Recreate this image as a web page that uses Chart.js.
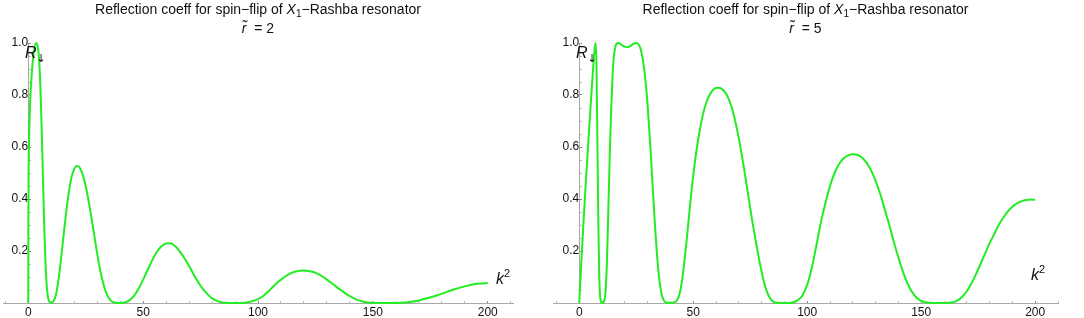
<!DOCTYPE html>
<html><head><meta charset="utf-8">
<script src="https://cdn.jsdelivr.net/npm/chart.js@4/dist/chart.umd.min.js"></script>
<style>
body{margin:0;background:#fff;width:1084px;height:318px;overflow:hidden;position:relative;font-family:"Liberation Sans",Arial,sans-serif;}
canvas{position:absolute;top:0;}
.title{position:absolute;text-align:center;font-size:14px;color:#111;height:18px;line-height:18px;white-space:nowrap;overflow:visible}
.title sub{font-size:10px;line-height:0;vertical-align:-3px}
.lab{position:absolute;font-size:16px;font-style:italic;color:#111;line-height:1;white-space:nowrap}
.lab sub{font-family:"DejaVu Sans",sans-serif;font-style:normal;font-size:11px;vertical-align:-4px;line-height:0}
.lab sup{font-style:normal;font-size:11px;vertical-align:7px;line-height:0}
</style></head>
<body>
<canvas id="c1" width="540" height="318" style="left:0"></canvas>
<canvas id="c2" width="544" height="318" style="left:540px"></canvas>
<div class="title" style="left:3px;width:510px;top:0px">Reflection coeff for spin−flip of <i>X</i><sub>1</sub>−Rashba resonator</div>
<div class="title" style="left:3px;width:510px;top:19px"><i>r̃</i>&nbsp; = 2</div>
<div class="title" style="left:553px;width:505px;top:0px">Reflection coeff for spin−flip of <i>X</i><sub>1</sub>−Rashba resonator</div>
<div class="title" style="left:553px;width:505px;top:19px"><i>r̃</i>&nbsp; = 5</div>
<div class="lab" style="left:25px;top:45px">R<sub>↓</sub></div>
<div class="lab" style="left:576px;top:45px">R<sub>↓</sub></div>
<div class="lab" style="left:496px;top:271px">k<sup>2</sup></div>
<div class="lab" style="left:1031px;top:267px">k<sup>2</sup></div>
<script>
// r̃ = 2
const k2Left = [0,0.05,0.15,0.4,0.8,1.5,2.5,3.5,4.5,5.2,5.8,6.4,7.0,7.6,8.3,9.0,10,11,12,13,14,15,16,17,18,19,20,21,22,23,24,25,26,27,28,29,30,31,32,33,34,35,36,38,40,42,44,46,48,50,52,54,56,58,60,62,64,66,68,70,72,74,76,78,80,82,84,86,89,92,95,98,100,102,104,106,108,110,112,114,116,118,120,122,124,126,128,130,132,134,136,138,140,142,144,146,148,150,154,158,162,166,170,174,178,182,186,190,194,197,200];
const rLeft = [0,0.3,0.5,0.65,0.77,0.88,0.97,1.0,0.96,0.85,0.68,0.48,0.28,0.13,0.04,0.008,0.0,0.008,0.03,0.08,0.15,0.23,0.31,0.385,0.445,0.49,0.515,0.527,0.525,0.51,0.485,0.45,0.405,0.355,0.3,0.245,0.19,0.14,0.098,0.064,0.038,0.02,0.009,0.001,0.0,0.002,0.01,0.027,0.055,0.09,0.128,0.165,0.197,0.218,0.229,0.23,0.218,0.198,0.172,0.142,0.11,0.08,0.054,0.034,0.018,0.009,0.003,0.001,0.0,0.0,0.002,0.008,0.015,0.025,0.04,0.058,0.075,0.09,0.103,0.113,0.12,0.124,0.125,0.123,0.119,0.112,0.102,0.09,0.077,0.063,0.05,0.037,0.026,0.017,0.01,0.005,0.002,0.001,0.0,0.0,0.001,0.004,0.01,0.019,0.03,0.042,0.054,0.064,0.072,0.075,0.077];
// r̃ = 5
const k2Right = [0,1,2,3,4,5,6,6.8,7.2,7.6,8.0,8.4,8.8,9.3,10,11,11.6,12.2,12.8,13.4,14,14.6,15.2,16,17,18,19,20,21,22,23,24,25,26,27,28,29,30,31,32,33,34,35,36,37,38,40,42,43,44,45,46,47,48,49,50,51,52,53,54,55,56,57,58,59,60,61,62,63,64,65,66,67,68,69,70,71,72,73,74,75,76,77,78,79,80,81,82,83,84,85,86,88,92,94,96,98,100,102,104,106,108,110,112,114,116,118,120,122,124,126,128,130,132,134,136,138,140,142,144,146,148,150,152,155,160,164,166,168,170,172,174,176,178,180,182,184,186,188,190,192,194,196,198,200];
const rRight = [0,0.17,0.33,0.48,0.62,0.76,0.89,0.98,1.0,0.9,0.6,0.3,0.1,0.015,0.0,0.01,0.05,0.17,0.37,0.57,0.74,0.87,0.95,0.99,1.0,0.997,0.99,0.986,0.984,0.986,0.992,0.998,1.0,0.995,0.975,0.93,0.86,0.76,0.63,0.48,0.33,0.2,0.1,0.04,0.012,0.002,0.0,0.003,0.012,0.035,0.08,0.15,0.23,0.32,0.41,0.49,0.56,0.62,0.67,0.715,0.75,0.777,0.797,0.812,0.822,0.827,0.828,0.826,0.82,0.81,0.795,0.775,0.748,0.715,0.677,0.633,0.585,0.533,0.478,0.422,0.365,0.31,0.26,0.21,0.163,0.12,0.082,0.052,0.03,0.015,0.006,0.002,0.0,0.0,0.003,0.012,0.03,0.07,0.135,0.22,0.31,0.385,0.45,0.5,0.535,0.557,0.568,0.572,0.57,0.56,0.54,0.51,0.47,0.42,0.36,0.3,0.235,0.175,0.12,0.075,0.042,0.02,0.008,0.003,0.0,0.0,0.003,0.01,0.024,0.045,0.075,0.11,0.15,0.19,0.23,0.265,0.3,0.328,0.352,0.37,0.383,0.391,0.396,0.398,0.397];

const xTickLabels = [0, 50, 100, 150, 200];
const yTickLabels = [0.2, 0.4, 0.6, 0.8, 1.0];

const AXIS = '#a8a8a8';
const TXT = '#111';
const GREEN = 'rgb(34,236,34)';

function isMajor(v, list){ return list.some(t => Math.abs(t - v) < 1e-9); }

function makeChart(id, xs, ys, xmin, xmax, pad){
  const pts = xs.map((x, i) => ({x: x, y: ys[i]}));
  new Chart(document.getElementById(id), {
    type: 'line',
    data: {datasets: [{data: pts, borderColor: GREEN, borderWidth: 2, pointRadius: 0,
      cubicInterpolationMode: 'monotone', fill: false, clip: false}]},
    options: {
      responsive: false, animation: false, events: [],
      layout: {padding: pad},
      plugins: {legend: {display: false}, tooltip: {enabled: false}, title: {display: false}},
      scales: {
        x: {
          type: 'linear', min: xmin, max: xmax, position: {y: 0},
          afterBuildTicks: s => {
            const t = [];
            for (let i = -1; i <= 21; i++) { const v = i * 10; if (v >= xmin && v <= xmax) t.push({value: v}); }
            s.ticks = t;
          },
          ticks: {autoSkip: false, maxRotation: 0, padding: 5, color: TXT,
            font: {family: '"Liberation Sans", Arial, sans-serif', size: 12},
            callback: v => isMajor(v, xTickLabels) ? String(v) : ''},
          grid: {drawOnChartArea: false, tickLength: -3,
            tickColor: c => (c.tick && isMajor(c.tick.value, xTickLabels)) ? '#888' : '#bbb'},
          border: {color: AXIS, width: 1}
        },
        y: {
          type: 'linear', min: 0, max: 1, position: {x: 0},
          afterBuildTicks: s => {
            const t = [];
            for (let i = 1; i <= 20; i++) t.push({value: Math.round(i * 5) / 100});
            s.ticks = t;
          },
          ticks: {autoSkip: false, padding: 6, color: TXT,
            font: {family: '"Liberation Sans", Arial, sans-serif', size: 12},
            callback: v => isMajor(v, yTickLabels) ? v.toFixed(1) : ''},
          grid: {drawOnChartArea: false, tickLength: -3,
            tickColor: c => (c.tick && isMajor(c.tick.value, yTickLabels)) ? '#888' : '#bbb'},
          border: {color: AXIS, width: 1}
        }
      }
    }
  });
}

makeChart('c1', k2Left, rLeft, -11, 211, {left: 3, right: 27, top: 43, bottom: 15});
makeChart('c2', k2Right, rRight, -11.5, 210, {left: 13, right: 26, top: 43, bottom: 15});
</script>
</body></html>
